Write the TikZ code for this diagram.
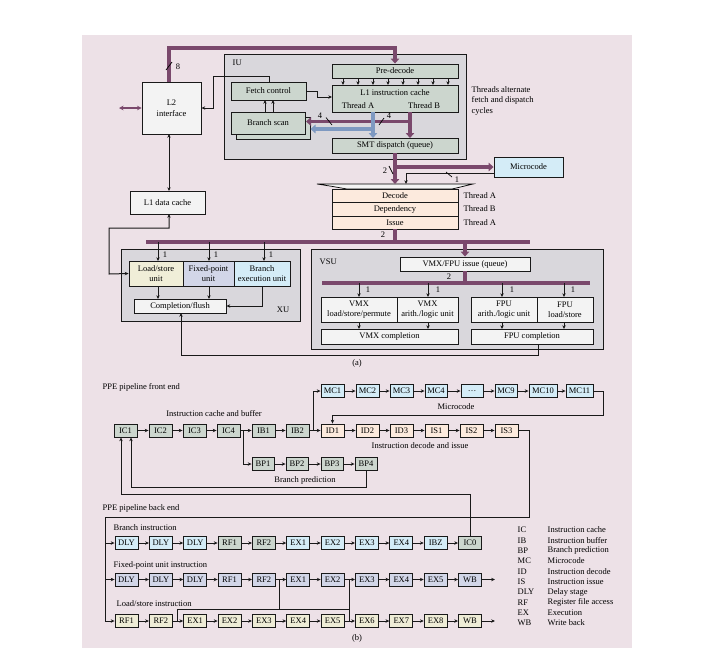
\documentclass[tikz,border=0pt]{standalone}
\usepackage{fontspec}
\setmainfont{Liberation Serif}
\usetikzlibrary{arrows.meta}
\definecolor{bgpink}{RGB}{237,225,231}
\definecolor{unitgray}{RGB}{217,215,220}
\definecolor{gg}{RGB}{204,214,206}
\definecolor{lite}{RGB}{243,243,243}
\definecolor{cyanl}{RGB}{212,236,247}
\definecolor{peach}{RGB}{252,234,221}
\definecolor{lav}{RGB}{210,214,232}
\definecolor{beige}{RGB}{238,236,214}
\definecolor{lsucol}{RGB}{240,238,216}
\definecolor{purp}{RGB}{122,72,108}
\definecolor{bluel}{RGB}{126,153,193}
\newcommand\rbox[7]{%
  \pgfmathsetmacro\rbw{#5-#3}\pgfmathsetmacro\rbh{#6-#4}%
  \pgfmathsetmacro\rbx{(#3+#5)/2}\pgfmathsetmacro\rby{(#4+#6)/2}%
  \node[#2, minimum width=\rbw pt, minimum height=\rbh pt] (#1) at (\rbx,\rby) {#7};}
\begin{document}
\begin{tikzpicture}[x=1pt,y=-1pt,
  fs/.style={font=\fontsize{8.5}{10.5}\selectfont},
  box/.style={draw=black!90, line width=0.9pt, inner sep=1pt, align=center, fs},
  region/.style={draw=black!90, line width=0.9pt, fill=unitgray, inner sep=0pt},
  pbox/.style={draw=black!90, line width=0.9pt, minimum width=23pt, minimum height=13pt, inner sep=0pt, fs},
  arr/.style={line width=1pt, draw=black!90, -{Stealth[length=3.8pt,width=3.4pt]}},
  dblarr/.style={line width=1pt, draw=black!90, {Stealth[length=3.8pt,width=3.4pt]}-{Stealth[length=3.8pt,width=3.4pt]}},
  pline/.style={line width=1pt, draw=black!90},
  pbus/.style={draw=purp, line width=3.5pt, -{Triangle[length=5pt,width=8.5pt]}},
  pbar/.style={draw=purp, line width=3.5pt},
  pblue/.style={draw=bluel, line width=3.5pt, -{Triangle[length=5pt,width=8.5pt]}},
  lbl/.style={fs, inner sep=0.5pt},
  tick/.style={line width=0.7pt, draw=black}]
\useasboundingbox (0,0) rectangle (701,657);
\fill[white] (0,0) rectangle (701,657);
\fill[bgpink] (82,35) rectangle (632,648);

% ---------------- part (a) ----------------
\rbox{iu}{region}{224}{54}{466}{159}{}
\node[lbl,anchor=west] (iul) at (232,63) {IU};
\rbox{l2}{box,fill=lite}{142}{82}{201}{134}{L2\\interface}
\rbox{fetch}{box,fill=gg}{231}{82}{306}{100}{Fetch control}
\rbox{bshadow}{box,fill=gg}{236}{117}{310}{139}{}
\rbox{bscan}{box,fill=gg}{231}{112}{305}{134}{Branch scan}
\rbox{pre}{box,fill=gg}{332}{64}{458}{78}{Pre-decode}
\rbox{l1i}{box,fill=gg}{332}{85}{458}{112}{}
\node[lbl] (l1it) at (395,93) {L1 instruction cache};
\node[lbl] (tha) at (358,106) {Thread A};
\node[lbl] (thb) at (424,106) {Thread B};
\rbox{smt}{box,fill=gg}{332}{138}{458}{153}{SMT dispatch (queue)}
\node[lbl,anchor=west] (note1) at (471,90) {Threads alternate};
\node[lbl,anchor=west] (note2) at (471,100.5) {fetch and dispatch};
\node[lbl,anchor=west] (note3) at (471,111) {cycles};
\rbox{mcode}{box,fill=cyanl}{494}{157}{563}{177}{Microcode}
\rbox{l1d}{box,fill=lite}{130}{191}{205}{214}{L1 data cache}

% funnel
\draw[line width=0.7pt, fill=lite] (317,184) -- (473,184) .. controls (463,186) .. (452,189)
  -- (347,189) .. controls (330,186) .. (317,184) -- cycle;
\rbox{dec}{box,fill=peach}{332}{189}{458}{202.5}{Decode}
\rbox{dep}{box,fill=peach}{332}{202.5}{458}{216}{Dependency}
\rbox{iss}{box,fill=peach}{332}{216}{458}{229}{Issue}
\node[lbl,anchor=west] (t1) at (463,196) {Thread A};
\node[lbl,anchor=west] (t2) at (463,209) {Thread B};
\node[lbl,anchor=west] (t3) at (463,222.5) {Thread A};

% XU
\rbox{xu}{region}{121}{249}{300}{321}{}
\node[lbl] (xul) at (283,310) {XU};
\rbox{lsu}{box,fill=lsucol}{129}{261}{183}{286}{Load/store\\unit}
\rbox{fxu}{box,fill=lav}{183}{261}{234}{286}{Fixed-point\\unit}
\rbox{bru}{box,fill=cyanl}{234}{261}{290}{286}{Branch\\execution unit}
\rbox{cmp}{box,fill=lite}{134}{299}{226}{313}{Completion/flush}

% VSU
\rbox{vsu}{region}{311}{249}{603}{349}{}
\node[lbl,anchor=west] (vsul) at (319,262) {VSU};
\rbox{vfiss}{box,fill=lite}{400}{257}{530}{271}{VMX/FPU issue (queue)}
\rbox{vls}{box,fill=lite}{321}{297}{397}{322}{VMX\\load/store/permute}
\rbox{valu}{box,fill=lite}{397}{297}{458}{322}{VMX\\arith./logic unit}
\rbox{falu}{box,fill=lite}{471}{297}{537}{322}{FPU\\arith./logic unit}
\rbox{fls}{box,fill=lite}{537}{297}{593}{322}{FPU\\load/store}
\rbox{vcmp}{box,fill=lite}{321}{329}{458}{344}{VMX completion}
\rbox{fcmp}{box,fill=lite}{471}{329}{593}{344}{FPU completion}
\node[lbl] (la) at (357,363) {(a)};

% thick purple / blue paths
\draw[pbus] (169,82) |- (395,48) -- (pre.north);
\node[lbl] (n8) at (178,67) {8};
\draw[tick] (166,70) -- (172,62);
\draw[pbus] (410,112) -- (410,138);
\draw[pbus] (410,121.5) -- (306,121.5);
\draw[pblue] (373,112) -- (373,138);
\draw[pblue] (373,129) -- (310.5,129);
\node[lbl] (n4a) at (320,116) {4};
\draw[tick] (326,117.5) -- (332,125);
\node[lbl] (n4b) at (389,116) {4};
\draw[tick] (379,125) -- (384,118);
\draw[pbus] (smt.south) -- (395,184);
\draw[pbus] (395,167) -- (mcode.west);
\node[lbl] (n2a) at (385,171) {2};
\draw[tick] (389,166) -- (393,174);
\draw[arr] ([yshift=-6pt]mcode.west) -| (406,184);
\node[lbl] (n1a) at (457,180) {1};
\draw[tick] (446,172) -- (452,177);
\draw[pbar] (iss.south) -- (395,242);
\node[lbl] (n2b) at (383,235) {2};
\draw[pbar] (146,242) -- (530,242);
\draw[pbus] (465,242) -- (vfiss.north);
\draw[pbar] (vfiss.south) -- (465,283);
\draw[pbar] (322,283) -- (590,283);
\node[lbl] (n2c) at (449,277) {2};

% thin connectors (a)
\draw[purp, line width=1.1pt, {Stealth[length=4.5pt,width=4.5pt]}-{Stealth[length=4.5pt,width=4.5pt]}] (119,108) -- (l2.west);
\draw[arr] (269,82) |- (213,76) |- (l2.east);
\draw[arr] (fetch.east) -- (317,91) |- (332,97);
\draw[arr] (265,112) -- (265,100);
\draw[arr] (273,112) -- (273,100);
\foreach \x in {343,358,...,448} \draw[arr] (\x,78) -- (\x,85);
\draw[dblarr] (169,134) -- (169,191);
\draw[dblarr] (169,214) -- (169,228) -| (109,274) -- (lsu.west);
\foreach \x/\lx in {158/165,209/216,264/271} {
  \draw[arr] (\x,242) -- (\x,261);
  \node[lbl] at (\lx,255) {1};
}
\draw[arr] (158,286) -- (158,299);
\draw[arr] (209,286) -- (209,299);
\draw[arr] (262,286) |- (cmp.east);
\foreach \x/\lx in {359/368,428/438,502/512,564/573} {
  \draw[arr] (\x,283) -- (\x,297);
  \draw[arr] (\x,322) -- (\x,329);
  \node[lbl] at (\lx,290) {1};
}
\draw[arr] (538,344) |- (181,355) -- (181,313);

% ---------------- part (b) front end ----------------
\node[lbl,anchor=west] (fe) at (102,387) {PPE pipeline front end};
\node[lbl] (icb) at (214,414) {Instruction cache and buffer};
\node[lbl] (mcl) at (456,407) {Microcode};
\node[lbl] (idl) at (420,446) {Instruction decode and issue};
\node[lbl] (bpl) at (305,480) {Branch prediction};

\foreach \t/\x [count=\i] in {IC1/114,IC2/149,IC3/183,IC4/217,IB1/252,IB2/286}
  \node[pbox,fill=gg] (f\i) at (\x+11.5,430.5) {\t};
\foreach \t/\x [count=\i from 7] in {ID1/321,ID2/356,ID3/390,IS1/425,IS2/460,IS3/495}
  \node[pbox,fill=peach] (f\i) at (\x+11.5,430.5) {\t};
\foreach \i [evaluate=\i as \j using int(\i+1)] in {1,...,11}
  \draw[arr] (f\i) -- (f\j);
\foreach \t/\x/\w [count=\i] in {MC1/321/23,MC2/356/23,MC3/390/23,MC4/425/22,\ldots/461/22,MC9/495/22,MC10/529/28,MC11/566/27}
  \node[pbox,fill=cyanl,minimum width=\w pt] (m\i) at (\x+\w/2,391) {\t};
\foreach \i [evaluate=\i as \j using int(\i+1)] in {1,...,7}
  \draw[arr] (m\i) -- (m\j);
\foreach \t/\x [count=\i] in {BP1/252,BP2/286,BP3/321,BP4/355}
  \node[pbox,fill=gg,minimum width=22pt] (bp\i) at (\x+11,464) {\t};
\foreach \i [evaluate=\i as \j using int(\i+1)] in {1,...,3}
  \draw[arr] (bp\i) -- (bp\j);
\coordinate (j1) at (243,430.5);
\coordinate (j2) at (313,430.5);
\draw[arr] (j1) |- (bp1.west);
\draw[arr] (j2) |- (m1.west);
\draw[arr] (m8.east) -| (603,415) -| (f7.north);
\draw[arr] (bp4.south) -- (bp4.south |- 0,487) -| ([xshift=5.5pt]f1.south);

% ---------------- part (b) back end ----------------
\node[lbl,anchor=west] (be) at (102,508) {PPE pipeline back end};
\node[lbl,anchor=west] (bil) at (113,528) {Branch instruction};
\node[lbl,anchor=west] (fil) at (113,565) {Fixed-point unit instruction};
\node[lbl,anchor=west] (lil) at (116,604) {Load/store instruction};

\foreach \t/\c [count=\i] in {DLY/cyanl,DLY/cyanl,DLY/cyanl,RF1/gg,RF2/gg,EX1/cyanl,EX2/cyanl,EX3/cyanl,EX4/cyanl,IBZ/cyanl,IC0/gg}
  \node[pbox,fill=\c] (ra\i) at ({92.15+34.35*\i},543) {\t};
\foreach \t [count=\i] in {DLY,DLY,DLY,RF1,RF2,EX1,EX2,EX3,EX4,EX5,WB}
  \node[pbox,fill=lav] (rb\i) at ({92.15+34.35*\i},579.5) {\t};
\foreach \t [count=\i] in {RF1,RF2,EX1,EX2,EX3,EX4,EX5,EX6,EX7,EX8,WB}
  \node[pbox,fill=beige] (rc\i) at ({92.15+34.35*\i},621) {\t};
\foreach \i [evaluate=\i as \j using int(\i+1)] in {1,...,10} {
  \draw[arr] (ra\i) -- (ra\j);
  \draw[arr] (rb\i) -- (rb\j);
  \draw[arr] (rc\i) -- (rc\j);
}
\draw[arr] (rb11.east) -- ++(13,0);
\draw[arr] (rc11.east) -- ++(13,0);

\draw[arr] (ra11.north) -- (ra11.north |- 0,494) -| ([xshift=-4.5pt]f1.south);
\draw[pline] (f12.east) -| (529,517) -| (105,621);
\draw[arr] (105,543) -- (ra1.west);
\draw[arr] (105,579.5) -- (rb1.west);
\draw[arr] (105,621) -- (rc1.west);
\draw[pline] (177,621) |- (349,609);
\draw[pline] (279,579.5) -- (279,609);
\draw[pline] (349,579.5) -- (349,621);

\foreach \a/\d [count=\i] in {IC/Instruction cache,IB/Instruction buffer,BP/Branch prediction,MC/Microcode,ID/Instruction decode,IS/Instruction issue,DLY/Delay stage,RF/Register file access,EX/Execution,WB/Write back} {
  \node[lbl,anchor=west] at (517,{519.7+10.33*\i}) {\a};
  \node[lbl,anchor=west] at (547,{519.7+10.33*\i}) {\d};
}
\node[lbl] (lb) at (357,638) {(b)};
\end{tikzpicture}
\end{document}
